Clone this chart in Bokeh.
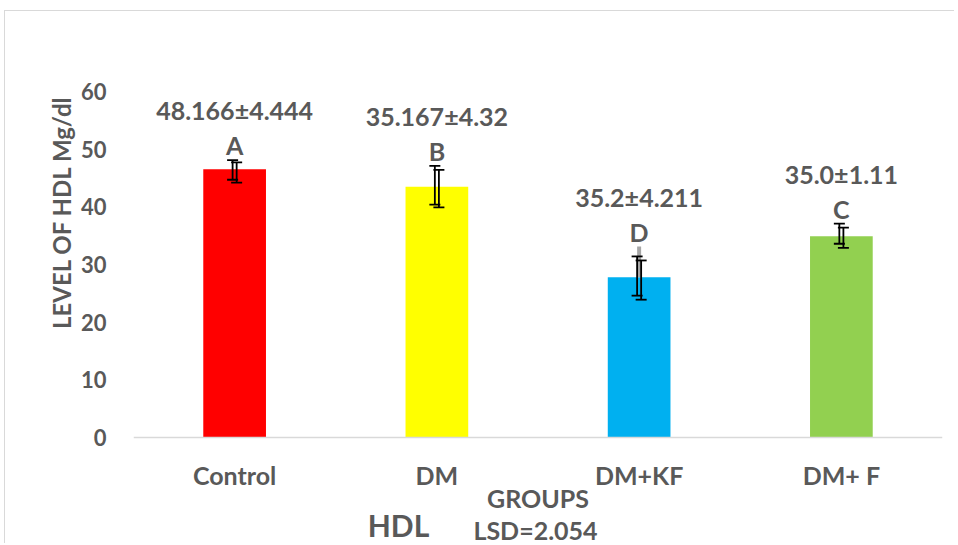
from bokeh.plotting import figure
from bokeh.models import ColumnDataSource, Whisker, Label, FactorRange, Range1d, TeeHead, Title, Span
from bokeh.transform import dodge
from bokeh.core.properties import value
from bokeh.embed import file_html
from bokeh.resources import INLINE

groups = ["Control", "DM", "DM+KF", "DM+ F"]
hdl_mean = [46.5, 43.5, 27.8, 34.9]
err1_upper = [48.1, 47.1, 31.4, 37.1]
err1_lower = [44.7, 40.4, 24.6, 33.6]
err2_upper = [47.7, 46.4, 30.7, 36.4]
err2_lower = [44.2, 39.9, 23.9, 32.9]
sd_group = ["DM+KF"]
sd_upper = [33.1]
sd_base = [27.8]
value_labels = ["48.166±4.444", "35.167±4.32", "35.2±4.211", "35.0±1.11"]
letters = ["A", "B", "D", "C"]
bar_colors = ["#FF0000", "#FFFF00", "#00B0F0", "#92D050"]
y_ticks = [0, 10, 20, 30, 40, 50, 60]

TXT = "#595959"
FONT = "Lato"

label_top = []
for g, u in zip(groups, err1_upper):
    t = u
    if g in sd_group:
        t = max(t, sd_upper[sd_group.index(g)])
    label_top.append(t)

src = ColumnDataSource(dict(g=groups, m=hdl_mean, u1=err1_upper, l1=err1_lower,
                            u2=err2_upper, l2=err2_lower, c=bar_colors,
                            vl=value_labels, lt=letters, top=label_top))
sd_src = ColumnDataSource(dict(g=sd_group, u=sd_upper, l=sd_base))

# plot area: 346 px for 0..60, frame continues 107 px below zero for the category texts
Y_MAX = 60
y_min = -Y_MAX * 107 / 346

p = figure(x_range=FactorRange(*groups), y_range=Range1d(y_min, Y_MAX), width=950, height=533,
           output_backend="svg", toolbar_location=None, x_axis_location=None,
           min_border_left=128, min_border_right=13, min_border_top=80, min_border_bottom=0)
p.styles = {"margin-top": "10px", "margin-left": "4px",
            "border-top": "1px solid #d9d9d9", "border-left": "1px solid #d9d9d9"}

p.add_layout(Span(location=0, dimension="width", line_color="#d9d9d9", line_width=1.5))

p.vbar(x="g", top="m", width=0.31, color="c", line_color=None, source=src)

p.add_layout(Whisker(base="g", upper="u", lower="l", source=sd_src, line_color="#a6a6a6",
                     line_width=4, upper_head=None, lower_head=None, level="overlay"))
for off, u, l in [(-0.01, "u1", "l1"), (0.01, "u2", "l2")]:
    p.add_layout(Whisker(base=dodge("g", off, range=p.x_range), upper=u, lower=l, source=src,
                         line_color="black", line_width=1.8, level="overlay",
                         upper_head=TeeHead(size=11, line_color="black", line_width=1.8),
                         lower_head=TeeHead(size=11, line_color="black", line_width=1.8)))

common = dict(text_align="center", text_baseline="middle", text_font=value(FONT),
              text_font_style="bold", text_color=TXT, text_font_size="25px")
p.text(x="g", y="top", text="vl", y_offset=-50, source=src, **common)
p.text(x="g", y="top", text="lt", y_offset=-15, source=src, **common)
# category names under the baseline
zero_src = ColumnDataSource(dict(g=groups, z=[0] * len(groups)))
p.text(x="g", y="z", text="g", y_offset=37, source=zero_src, **common)

p.xgrid.grid_line_color = None
p.ygrid.grid_line_color = None
p.outline_line_color = None

p.yaxis.ticker = y_ticks
p.yaxis.axis_line_color = None
p.yaxis.major_tick_line_color = None
p.yaxis.minor_tick_line_color = None
p.yaxis.major_label_standoff = 21
p.yaxis.major_label_text_font = FONT
p.yaxis.major_label_text_font_style = "bold"
p.yaxis.major_label_text_font_size = "22px"
p.yaxis.major_label_text_color = TXT

p.add_layout(Title(text="LEVEL OF HDL Mg/dl", align="right", offset=4, standoff=4,
                   text_font=FONT, text_font_style="bold", text_color=TXT,
                   text_font_size="24px"), "left")

lab = dict(text_font=FONT, text_font_style="bold", text_color=TXT,
           text_align="center", text_baseline="middle")
p.add_layout(Label(x=len(groups) / 2, y=0, y_offset=-60, text="GROUPS",
                   text_font_size="25px", **lab))
p.add_layout(Label(x=0, y=0, x_offset=265, y_offset=-87, text="HDL",
                   text_font_size="30px", **lab))
p.add_layout(Label(x=0, y=0, x_offset=402, y_offset=-92, text="LSD=2.054",
                   text_font_size="25px", **lab))

open("out.html", "w").write(file_html(p, INLINE))
